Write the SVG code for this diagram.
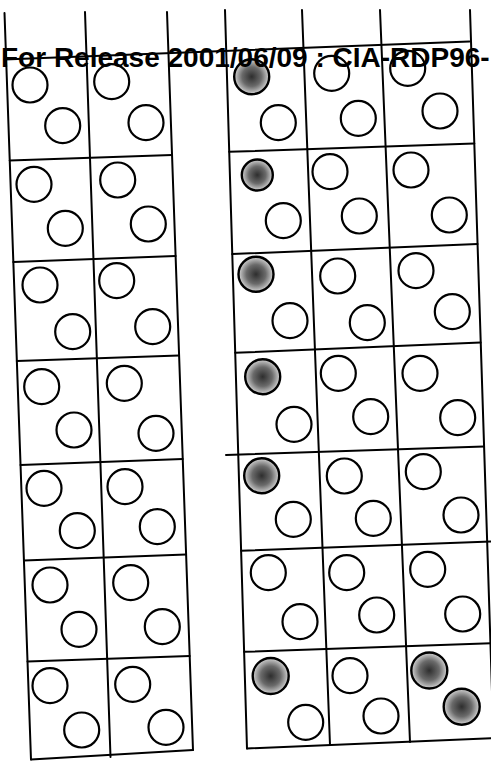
<svg xmlns="http://www.w3.org/2000/svg" width="491" height="761" viewBox="0 0 491 761">
<style>
.ln{stroke:#000;stroke-width:2;fill:none;stroke-linecap:round}
.c{fill:#fff;stroke:#000;stroke-width:2.2}
.f{fill:url(#stip);stroke:#000;stroke-width:2.4}
.t{font-family:"Liberation Sans",Arial,sans-serif;font-weight:bold;font-size:28px;fill:#000}
</style>
<defs>
<radialGradient id="stip" cx="0.5" cy="0.5" r="0.5">
<stop offset="0" stop-color="#2e2e2e"/>
<stop offset="0.55" stop-color="#6a6a6a"/>
<stop offset="0.85" stop-color="#b0b0b0"/>
<stop offset="1" stop-color="#d8d8d8"/>
</radialGradient>
</defs>
<rect width="491" height="761" fill="#fff"/>
<g id="connectors">
<line class="ln" x1="4.5" y1="59.5" x2="469.5" y2="41.5"/>
<line class="ln" x1="4.5" y1="13" x2="31" y2="759.5"/>
<line class="ln" x1="85" y1="12" x2="110.5" y2="757"/>
<line class="ln" x1="167" y1="12" x2="193" y2="750"/>
<line class="ln" x1="9.7" y1="160.5" x2="172" y2="155"/>
<line class="ln" x1="13.3" y1="262" x2="175.6" y2="256"/>
<line class="ln" x1="16.8" y1="361" x2="179.1" y2="355.5"/>
<line class="ln" x1="20.5" y1="465" x2="182.7" y2="459"/>
<line class="ln" x1="23.9" y1="560.5" x2="186.1" y2="554.5"/>
<line class="ln" x1="27.5" y1="661.5" x2="189.7" y2="656"/>
<line class="ln" x1="31" y1="759.5" x2="193" y2="750"/>
<line class="ln" x1="225" y1="10" x2="247" y2="748.5"/>
<line class="ln" x1="302" y1="10" x2="330" y2="745"/>
<line class="ln" x1="380" y1="10" x2="410" y2="742"/>
<line class="ln" x1="470" y1="10" x2="493.5" y2="738"/>
<line class="ln" x1="229.2" y1="151.8" x2="474.3" y2="143.4"/>
<line class="ln" x1="232.3" y1="254.1" x2="477.5" y2="244"/>
<line class="ln" x1="235.2" y1="352.8" x2="480.6" y2="342.6"/>
<line class="ln" x1="226" y1="455" x2="484" y2="446.5"/>
<line class="ln" x1="241.1" y1="550.8" x2="491" y2="541.5"/>
<line class="ln" x1="244.1" y1="651.8" x2="491" y2="643.2"/>
<line class="ln" x1="247" y1="748.5" x2="491" y2="738.3"/>
</g>
<g id="left-grid">
<g id="L-r1c1"><circle class="c" cx="30" cy="85" r="17.5"/><circle class="c" cx="62.7" cy="125.7" r="17.5"/></g>
<g id="L-r1c2"><circle class="c" cx="111.7" cy="81.7" r="17.5"/><circle class="c" cx="146" cy="122.7" r="17.5"/></g>
<g id="L-r2c1"><circle class="c" cx="34" cy="184.3" r="17.5"/><circle class="c" cx="65.3" cy="228.3" r="17.5"/></g>
<g id="L-r2c2"><circle class="c" cx="117.7" cy="180" r="17.5"/><circle class="c" cx="148.3" cy="224" r="17.5"/></g>
<g id="L-r3c1"><circle class="c" cx="40" cy="285" r="17.5"/><circle class="c" cx="72.7" cy="331.7" r="17.5"/></g>
<g id="L-r3c2"><circle class="c" cx="116.7" cy="280.7" r="17.5"/><circle class="c" cx="152.7" cy="326.7" r="17.5"/></g>
<g id="L-r4c1"><circle class="c" cx="41.7" cy="386.7" r="17.5"/><circle class="c" cx="74" cy="430" r="17.5"/></g>
<g id="L-r4c2"><circle class="c" cx="124.3" cy="383.3" r="17.5"/><circle class="c" cx="156" cy="433.3" r="17.5"/></g>
<g id="L-r5c1"><circle class="c" cx="44" cy="488.3" r="17.5"/><circle class="c" cx="77.3" cy="530.7" r="17.5"/></g>
<g id="L-r5c2"><circle class="c" cx="125" cy="486.7" r="17.5"/><circle class="c" cx="157.3" cy="526.7" r="17.5"/></g>
<g id="L-r6c1"><circle class="c" cx="50" cy="585" r="17.5"/><circle class="c" cx="79" cy="629.3" r="17.5"/></g>
<g id="L-r6c2"><circle class="c" cx="130.7" cy="582.7" r="17.5"/><circle class="c" cx="162.3" cy="626.7" r="17.5"/></g>
<g id="L-r7c1"><circle class="c" cx="50" cy="685.7" r="17.5"/><circle class="c" cx="81.7" cy="730" r="17.5"/></g>
<g id="L-r7c2"><circle class="c" cx="132.7" cy="684.3" r="17.5"/><circle class="c" cx="166" cy="727.3" r="17.5"/></g>
</g>
<g id="right-grid">
<g id="R-r1c1"><circle class="f" cx="251.7" cy="76.7" r="17.5"/><circle class="c" cx="278.3" cy="122.7" r="17.5"/></g>
<g id="R-r1c2"><circle class="c" cx="331.7" cy="73.3" r="17.5"/><circle class="c" cx="358.3" cy="118.3" r="17.5"/></g>
<g id="R-r1c3"><circle class="c" cx="407.7" cy="68.3" r="17.5"/><circle class="c" cx="440" cy="111" r="17.5"/></g>
<g id="R-r2c1"><circle class="f" cx="257.3" cy="175" r="15.5"/><circle class="c" cx="283.3" cy="220.7" r="17.5"/></g>
<g id="R-r2c2"><circle class="c" cx="330" cy="171.7" r="17.5"/><circle class="c" cx="359.3" cy="216" r="17.5"/></g>
<g id="R-r2c3"><circle class="c" cx="411" cy="170" r="17.5"/><circle class="c" cx="449.3" cy="215" r="17.5"/></g>
<g id="R-r3c1"><circle class="f" cx="256" cy="274.3" r="17.5"/><circle class="c" cx="290" cy="320.7" r="17.5"/></g>
<g id="R-r3c2"><circle class="c" cx="337.7" cy="276" r="17.5"/><circle class="c" cx="367.3" cy="322.7" r="17.5"/></g>
<g id="R-r3c3"><circle class="c" cx="416" cy="270.7" r="17.5"/><circle class="c" cx="452.3" cy="311.7" r="17.5"/></g>
<g id="R-r4c1"><circle class="f" cx="262.7" cy="376.7" r="17.5"/><circle class="c" cx="294" cy="424.3" r="17.5"/></g>
<g id="R-r4c2"><circle class="c" cx="338.3" cy="373.3" r="17.5"/><circle class="c" cx="370.7" cy="416.7" r="17.5"/></g>
<g id="R-r4c3"><circle class="c" cx="420" cy="373.3" r="17.5"/><circle class="c" cx="457.7" cy="417.7" r="17.5"/></g>
<g id="R-r5c1"><circle class="f" cx="261.7" cy="475.7" r="17.5"/><circle class="c" cx="293.3" cy="519.3" r="17.5"/></g>
<g id="R-r5c2"><circle class="c" cx="344.3" cy="476" r="17.5"/><circle class="c" cx="373.3" cy="518.3" r="17.5"/></g>
<g id="R-r5c3"><circle class="c" cx="423.3" cy="471.7" r="17.5"/><circle class="c" cx="461" cy="515" r="17.5"/></g>
<g id="R-r6c1"><circle class="c" cx="268.3" cy="572.7" r="17.5"/><circle class="c" cx="300" cy="621.7" r="17.5"/></g>
<g id="R-r6c2"><circle class="c" cx="346.7" cy="572.7" r="17.5"/><circle class="c" cx="376.7" cy="615" r="17.5"/></g>
<g id="R-r6c3"><circle class="c" cx="427.7" cy="569.3" r="17.5"/><circle class="c" cx="462.7" cy="614" r="17.5"/></g>
<g id="R-r7c1"><circle class="f" cx="270.7" cy="676" r="18"/><circle class="c" cx="305.7" cy="722.3" r="17.5"/></g>
<g id="R-r7c2"><circle class="c" cx="350" cy="675.7" r="17.5"/><circle class="c" cx="381" cy="716" r="17.5"/></g>
<g id="R-r7c3"><circle class="f" cx="429.3" cy="670.5" r="18"/><circle class="f" cx="461.7" cy="706.7" r="18"/></g>
</g>
<g id="header-text">
<text class="t" x="1" y="66.5">For Release 2001/06/09 : CIA-RDP96-</text>
</g>
</svg>
